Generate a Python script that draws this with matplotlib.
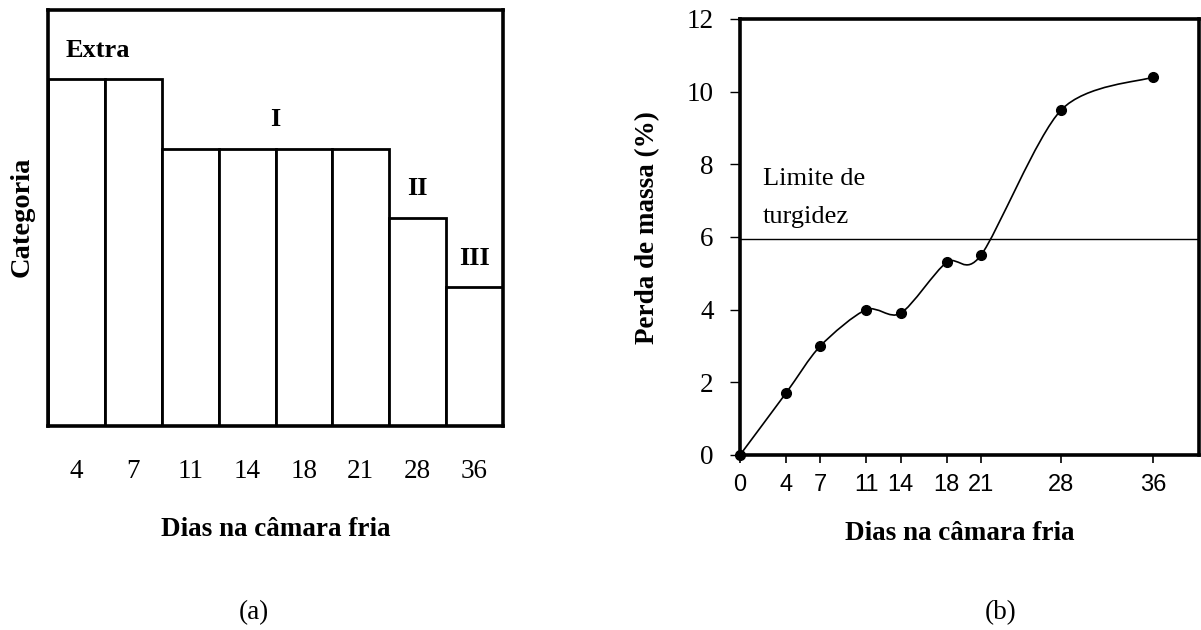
import matplotlib
matplotlib.use("Agg")
import matplotlib.pyplot as plt
from matplotlib.path import Path
from matplotlib.patches import PathPatch

# ---- data -----------------------------------------------------------
days_a = [4, 7, 11, 14, 18, 21, 28, 36]
grade_a = ["Extra", "Extra", "I", "I", "I", "I", "II", "III"]
grade_levels = {"Extra": 5, "I": 4, "II": 3, "III": 2}

days_b = [0, 4, 7, 11, 14, 18, 21, 28, 36]
mass_loss = [0.0, 1.7, 3.0, 4.0, 3.9, 5.3, 5.5, 9.5, 10.4]
turgor_limit = 5.95
yticks_b = [0, 2, 4, 6, 8, 10, 12]

SERIF = "Liberation Serif"
SANS = "Liberation Sans"
W, H = 1201, 630

fig = plt.figure(figsize=(W / 100, H / 100), dpi=100)


def px_axes(x0, y0, x1, y1):
    """Axes placed by pixel box (top-left origin)."""
    return fig.add_axes([x0 / W, 1 - y1 / H, (x1 - x0) / W, (y1 - y0) / H])


# ---- (a) category bars ---------------------------------------------
axa = px_axes(48, 10, 503, 426)
pos = list(range(len(days_a)))
heights = [grade_levels[g] for g in grade_a]
axa.bar(pos, heights, width=1.0, color="white", edgecolor="black",
        linewidth=2.0, zorder=2)
axa.set_xlim(-0.5, len(days_a) - 0.5)
axa.set_ylim(0, 6)
axa.set_yticks([])
axa.set_xticks(pos)
axa.set_xticklabels([str(d) for d in days_a], fontfamily=SERIF, fontsize=19.5)
axa.tick_params(axis="x", length=0, pad=24)
for s in axa.spines.values():
    s.set_linewidth(2.6)

# grade names above each group of bars
seen = []
for g in grade_a:
    if g not in seen:
        seen.append(g)
for g in seen:
    idx = [i for i, gg in enumerate(grade_a) if gg == g]
    xc = sum(idx) / len(idx)
    if g == "Extra":
        xc -= 0.12
    axa.text(xc, grade_levels[g] + 0.42, g, ha="center", va="center",
             fontfamily=SERIF, fontweight="bold", fontsize=19)

axa.set_xlabel("Dias na câmara fria", fontfamily=SERIF, fontweight="bold",
               fontsize=19.5)
axa.xaxis.set_label_coords(0.5, (426 - 530) / 416)
axa.xaxis.label.set_va("center")
axa.set_ylabel("Categoria", fontfamily=SERIF, fontweight="bold", fontsize=20.5)
axa.yaxis.set_label_coords((22 - 48) / 455, (426 - 217) / 416)
axa.yaxis.label.set_va("center")

fig.text(254 / W, 1 - 613 / H, "(a)", ha="center", va="center",
         fontfamily=SERIF, fontsize=19.5)

# ---- (b) mass loss curve -------------------------------------------
axb = px_axes(740, 19, 1199, 455)
axb.set_xlim(0, 40)
axb.set_ylim(0, 12)

# smoothed line through the measured points (cubic Bezier, Catmull-Rom tangents)
pts = list(zip(days_b, mass_loss))
verts = [pts[0]]
codes = [Path.MOVETO]
n = len(pts)
k = 7.0
for i in range(n - 1):
    p0 = pts[max(i - 1, 0)]
    p1 = pts[i]
    p2 = pts[i + 1]
    p3 = pts[min(i + 2, n - 1)]
    c1 = (p1[0] + (p2[0] - p0[0]) / k, p1[1] + (p2[1] - p0[1]) / k)
    c2 = (p2[0] - (p3[0] - p1[0]) / k, p2[1] - (p3[1] - p1[1]) / k)
    verts += [c1, c2, p2]
    codes += [Path.CURVE4] * 3
axb.add_patch(PathPatch(Path(verts, codes), facecolor="none",
                        edgecolor="black", linewidth=1.2, zorder=3))
axb.plot(days_b, mass_loss, linestyle="none", marker="o", markersize=7,
         color="black", zorder=4, clip_on=False)

axb.axhline(turgor_limit, color="black", linewidth=1.0, zorder=2)
axb.text(2, turgor_limit + 1.65, "Limite de", fontfamily=SERIF, fontsize=19,
         va="center", ha="left")
axb.text(2, turgor_limit + 0.6, "turgidez", fontfamily=SERIF, fontsize=19,
         va="center", ha="left")

axb.set_yticks(yticks_b)
axb.set_yticklabels([str(v) for v in yticks_b], fontfamily=SERIF, fontsize=19.5)
axb.set_xticks(days_b)
axb.set_xticklabels([str(d) for d in days_b], fontfamily=SANS, fontsize=17)
axb.tick_params(axis="y", direction="out", length=7, width=1, pad=12)
axb.tick_params(axis="x", direction="out", length=6, width=1.2, pad=8)
for s in axb.spines.values():
    s.set_linewidth(2.6)

axb.set_xlabel("Dias na câmara fria", fontfamily=SERIF, fontweight="bold",
               fontsize=19.5)
axb.xaxis.set_label_coords((960 - 740) / 459, (455 - 533) / 436)
axb.xaxis.label.set_va("center")
axb.set_ylabel("Perda de massa (%)", fontfamily=SERIF, fontweight="bold",
               fontsize=19.5)
axb.yaxis.set_label_coords((648 - 740) / 459, (455 - 228) / 436)
axb.yaxis.label.set_va("center")

fig.text(1001 / W, 1 - 613 / H, "(b)", ha="center", va="center",
         fontfamily=SERIF, fontsize=19.5)

fig.savefig("out.png", dpi=100, facecolor="white")
